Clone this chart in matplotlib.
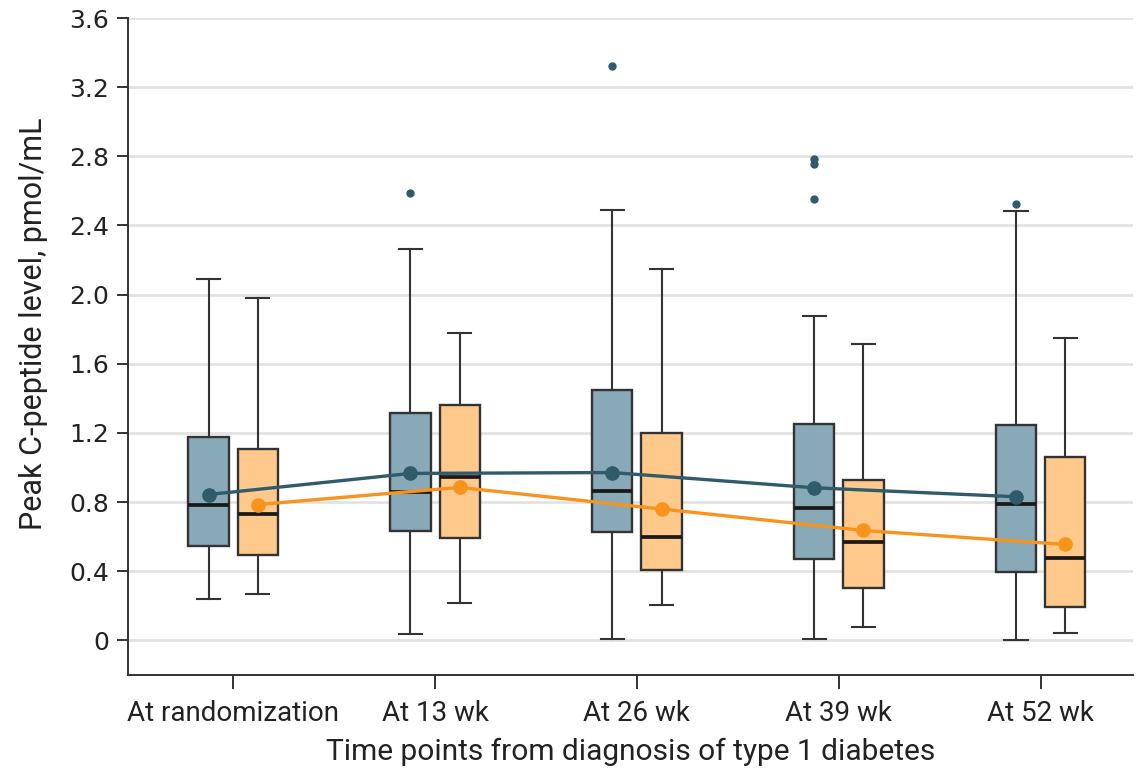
import matplotlib
matplotlib.use("Agg")
import matplotlib.pyplot as plt
from matplotlib import font_manager

# ---- data ----
categories = ["At randomization", "At 13 wk", "At 26 wk", "At 39 wk", "At 52 wk"]

# group A (blue)
a_low = [0.24, 0.035, 0.011, 0.008, 0.004]
a_q1 = [0.545, 0.632, 0.629, 0.472, 0.396]
a_med = [0.783, 0.86, 0.867, 0.767, 0.792]
a_q3 = [1.179, 1.314, 1.451, 1.25, 1.246]
a_high = [2.09, 2.265, 2.49, 1.878, 2.481]
a_mean = [0.844, 0.966, 0.971, 0.883, 0.831]
a_out = [[], [2.589], [3.32], [2.786, 2.754, 2.553], [2.522]]

# group B (orange)
b_low = [0.269, 0.218, 0.207, 0.077, 0.042]
b_q1 = [0.495, 0.591, 0.409, 0.303, 0.193]
b_med = [0.734, 0.943, 0.60, 0.569, 0.479]
b_q3 = [1.107, 1.362, 1.198, 0.926, 1.063]
b_high = [1.98, 1.776, 2.147, 1.712, 1.747]
b_mean = [0.786, 0.885, 0.76, 0.636, 0.555]
b_out = [[], [], [], [], []]

yticks = [0, 0.4, 0.8, 1.2, 1.6, 2.0, 2.4, 2.8, 3.2, 3.6]
ytick_labels = ["0", "0.4", "0.8", "1.2", "1.6", "2.0", "2.4", "2.8", "3.2", "3.6"]
xlabel = "Time points from diagnosis of type 1 diabetes"
ylabel = "Peak C-peptide level, pmol/mL"

# ---- style ----
avail = {f.name for f in font_manager.fontManager.ttflist}
narrow = "Liberation Sans Narrow" if "Liberation Sans Narrow" in avail else "Roboto"
plt.rcParams["font.family"] = [narrow, "DejaVu Sans"]

blue_fill = "#87a9b8"
blue_dark = "#2f5b6b"
orange_fill = "#fec98a"
orange_dark = "#f7941d"
edge = "#333333"

fig = plt.figure(figsize=(11.4, 7.74), dpi=100)
ax = fig.add_axes([0.1125, 0.1279, 0.9936 - 0.1125, 0.9767 - 0.1279])

offset = 0.122
width = 0.2
xs = list(range(len(categories)))


def make_stats(low, q1, med, q3, high, mean, out):
    return [dict(whislo=low[i], q1=q1[i], med=med[i], q3=q3[i], whishi=high[i],
                 mean=mean[i], fliers=out[i]) for i in range(len(low))]


for stats, fill, dark, sign in [
    (make_stats(a_low, a_q1, a_med, a_q3, a_high, a_mean, a_out), blue_fill, blue_dark, -1),
    (make_stats(b_low, b_q1, b_med, b_q3, b_high, b_mean, b_out), orange_fill, orange_dark, 1),
]:
    pos = [x + sign * offset for x in xs]
    ax.bxp(stats, positions=pos, widths=width, patch_artist=True, showmeans=False,
           boxprops=dict(facecolor=fill, edgecolor=edge, linewidth=1.7),
           medianprops=dict(color="#1a1a1a", linewidth=2.7),
           whiskerprops=dict(color=edge, linewidth=1.5),
           capprops=dict(color=edge, linewidth=1.5),
           capwidths=0.115,
           flierprops=dict(marker="o", markersize=5, markerfacecolor=dark,
                           markeredgecolor=dark), zorder=3)

ax.plot([x - offset for x in xs], a_mean, color=blue_dark, lw=2.4, marker="o",
        markersize=9.5, zorder=5)
ax.plot([x + offset for x in xs], b_mean, color=orange_dark, lw=2.4, marker="o",
        markersize=9.5, zorder=5)

ax.set_xlim(-0.52, 4.456)
ax.set_ylim(-0.2, 3.6)
ax.set_yticks(yticks)
ax.set_yticklabels(ytick_labels, family=["DejaVu Sans"], fontsize=18, color="#222222")
ax.set_xticks(xs)
ax.set_xticklabels(categories, fontsize=20, color="#222222")
ax.set_xlabel(xlabel, fontsize=21.5, color="#222222", labelpad=8)
ax.set_ylabel(ylabel, fontsize=22, color="#222222")
ax.yaxis.set_label_coords(-0.08, 0.535)

ax.yaxis.grid(True, color="#e2e2e2", linewidth=2.0, zorder=0)
ax.set_axisbelow(True)
for s in ["top", "right"]:
    ax.spines[s].set_visible(False)
for s in ["left", "bottom"]:
    ax.spines[s].set_color(edge)
    ax.spines[s].set_linewidth(1.4)
ax.tick_params(axis="both", color=edge, width=1.4, length=8)
ax.tick_params(axis="x", length=10, pad=8)
ax.tick_params(axis="y", pad=6)

fig.savefig("out.png", dpi=100)
